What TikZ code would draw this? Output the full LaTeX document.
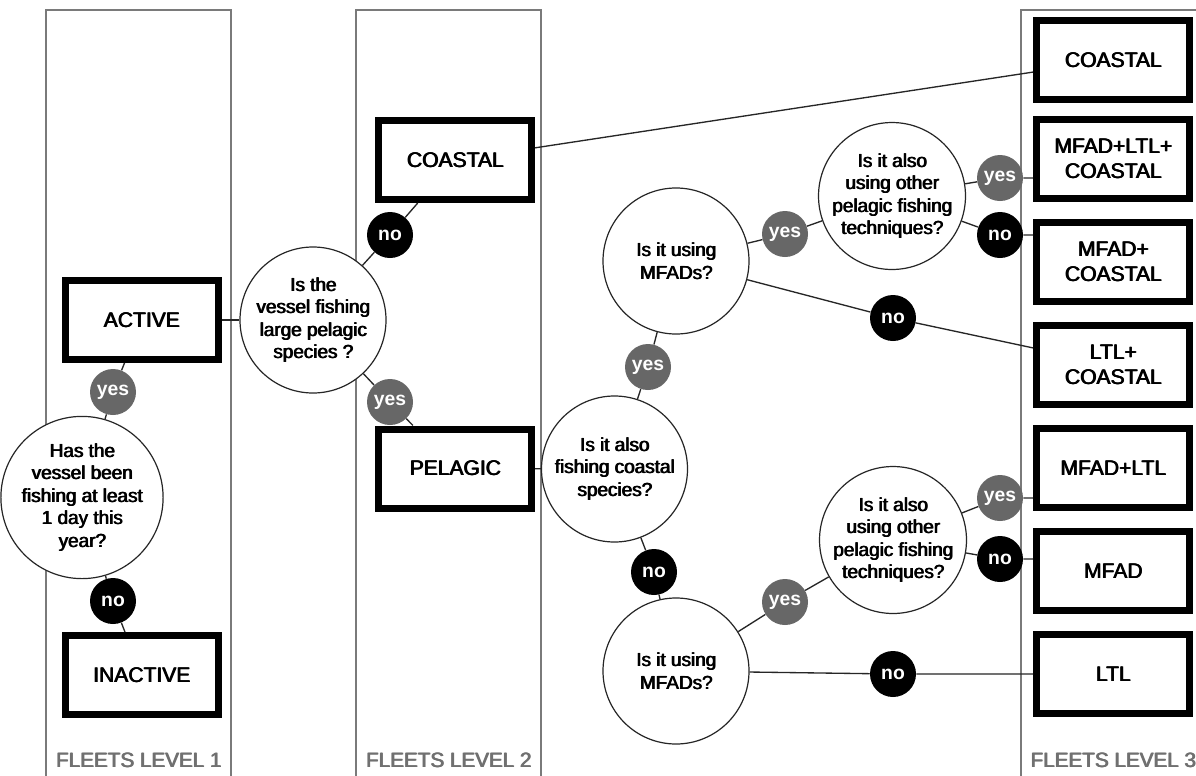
\documentclass[tikz,border=0pt]{standalone}
\usepackage{fontspec}
\setmainfont{Liberation Sans}
\newcommand\hv[1]{\leavevmode\rlap{\kern0.7pt#1}\rlap{\kern0.35pt#1}#1}
\definecolor{lanegray}{HTML}{7A7A7A}
\definecolor{yesgray}{HTML}{676767}
\definecolor{labgray}{HTML}{707070}
\begin{document}
\begin{tikzpicture}[x=0.75pt,y=-0.75pt,
 lane/.style={draw=lanegray,line width=1.5pt},
 fleet/.style={draw=black,line width=5.25pt,fill=white,minimum width=114.75pt,minimum height=59.25pt,inner sep=0pt,align=center,font=\fontsize{15.8}{18.75}\selectfont},
 question/.style={circle,draw=black!85,line width=0.9pt,fill=white,minimum size=109.5pt,inner sep=0pt,align=center,font=\fontsize{14.2}{16.9}\selectfont},
 yeslbl/.style={circle,fill=yesgray,minimum size=34.5pt,inner sep=0pt,text=white,font=\bfseries\fontsize{14.5}{14.5}\selectfont},
 nolbl/.style={yeslbl,fill=black},
 link/.style={draw=black!85,line width=1pt},
 lanetitle/.style={text=labgray,font=\fontsize{15.5}{16}\selectfont}
]
\useasboundingbox (0,0) rectangle (1196,775);
\clip (0,0) rectangle (1196,775);
\fill[white] (0,0) rectangle (1196,775);
% lanes
\draw[lane] (46,790) -- (46,9.5) -- (231,9.5) -- (231,790);
\draw[lane] (356,790) -- (356,9.5) -- (541,9.5) -- (541,790);
\draw[lane] (1021,790) -- (1021,9.5) -- (1220,9.5);
\node[lanetitle] (t1) at (138.5,760) {\hv{FLEETS LEVEL 1}};
\node[lanetitle] (t2) at (448.5,760) {\hv{FLEETS LEVEL 2}};
\node[lanetitle] (t3) at (1113,760) {\hv{FLEETS LEVEL 3}};
% fleets
\node[fleet] (active) at (141.5,320) {\hv{ACTIVE}};
\node[fleet] (inactive) at (141.5,675) {\hv{INACTIVE}};
\node[fleet] (coastalB) at (455,160) {\hv{COASTAL}};
\node[fleet] (pelagic) at (455,468.5) {\hv{PELAGIC}};
\node[fleet] (c3) at (1113,60) {\hv{COASTAL}};
\node[fleet] (mlc) at (1113,159) {\hv{MFAD+LTL+}\\\hv{COASTAL}};
\node[fleet] (mc) at (1113,262) {\hv{MFAD+}\\\hv{COASTAL}};
\node[fleet] (lc) at (1113,365) {\hv{LTL+}\\\hv{COASTAL}};
\node[fleet] (ml) at (1113,468) {\hv{MFAD+LTL}};
\node[fleet] (m) at (1113,571) {\hv{MFAD}};
\node[fleet] (l) at (1113,674) {\hv{LTL}};
% questions
\node[question] (q1) at (82,497.5) {\hv{Has the}\\\hv{vessel been}\\\hv{fishing at least}\\\hv{1 day this}\\\hv{year?}};
\node[question] (q2) at (313,320) {\hv{Is the}\\\hv{vessel fishing}\\\hv{large pelagic}\\\hv{species ?}};
\node[question] (q3) at (614.5,469) {\hv{Is it also}\\\hv{fishing coastal}\\\hv{species?}};
\node[question] (q4) at (676,261) {\hv{Is it using}\\\hv{MFADs?}};
\node[question] (q5) at (892,196) {\hv{Is it also}\\\hv{using other}\\\hv{pelagic fishing}\\\hv{techniques?}};
\node[question] (q6) at (676,671) {\hv{Is it using}\\\hv{MFADs?}};
\node[question] (q7) at (893,540) {\hv{Is it also}\\\hv{using other}\\\hv{pelagic fishing}\\\hv{techniques?}};
% answer labels
\node[yeslbl] (y1) at (113,392) {yes};
\node[nolbl] (n1) at (113,601) {no};
\node[nolbl] (n2) at (390,235) {no};
\node[yeslbl] (y2) at (390,402) {yes};
\node[yeslbl] (y3) at (648,367) {yes};
\node[nolbl] (n3) at (654,572) {no};
\node[yeslbl] (y4) at (785,234) {yes};
\node[nolbl] (n4) at (893,318) {no};
\node[yeslbl] (y5) at (1000,178) {yes};
\node[nolbl] (n5) at (1000,235) {no};
\node[yeslbl] (y6) at (785,602) {yes};
\node[nolbl] (n6) at (893,674) {no};
\node[yeslbl] (y7) at (1000,498) {yes};
\node[nolbl] (n7) at (1000,559) {no};
% connectors
\draw[link] (active) -- (y1) -- (q1);
\draw[link] (q1) -- (n1) -- (inactive);
\draw[link] (active) -- (q2);
\draw[link] (q2) -- (n2) -- (coastalB);
\draw[link] (q2) -- (y2) -- (pelagic);
\draw[link] (coastalB) -- (c3);
\draw[link] (pelagic) -- (q3);
\draw[link] (q3) -- (y3) -- (q4);
\draw[link] (q3) -- (n3) -- (q6);
\draw[link] (q4) -- (y4) -- (q5);
\draw[link] (q4) -- (n4) -- (lc);
\draw[link] (q5) -- (y5) -- (mlc.west |- y5);
\draw[link] (q5) -- (n5) -- (mc.west |- n5);
\draw[link] (q6) -- (y6) -- (q7);
\draw[link] (q6) -- (n6) -- (l);
\draw[link] (q7) -- (y7) -- (ml.west |- y7);
\draw[link] (q7) -- (n7) -- (m.west |- n7);
\end{tikzpicture}
\end{document}
